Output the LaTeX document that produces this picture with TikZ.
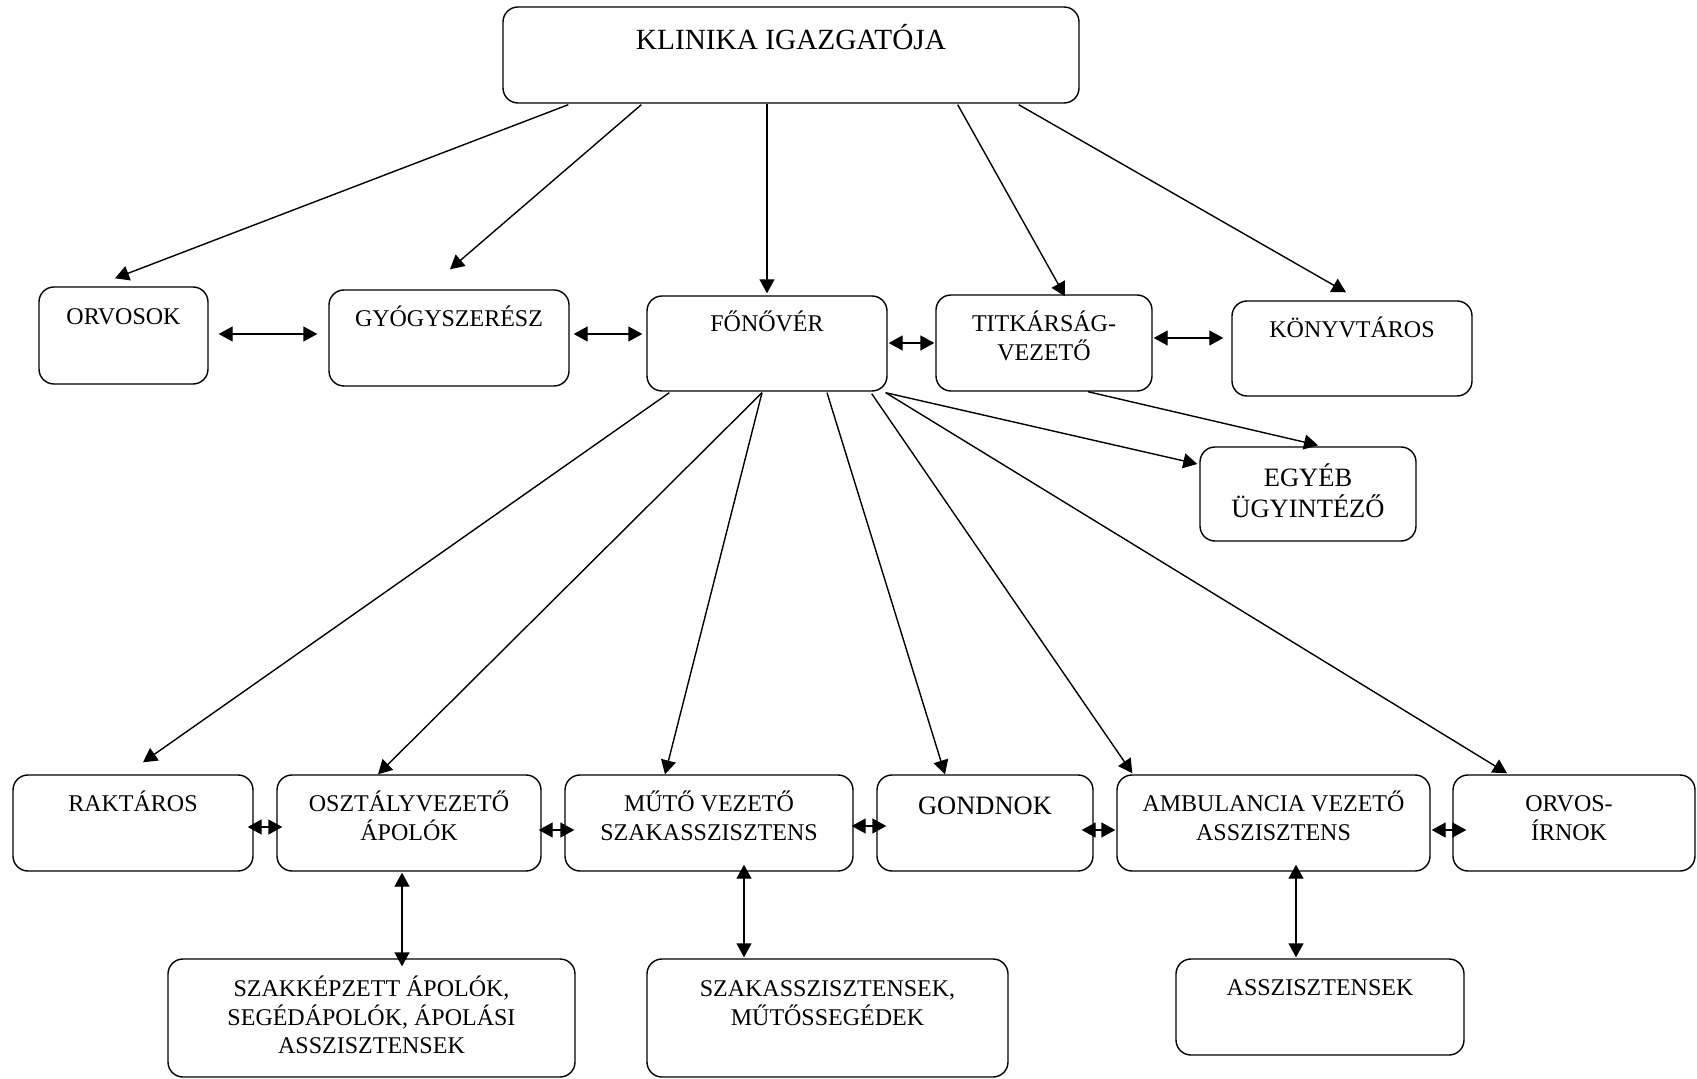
\documentclass[tikz,border=0pt]{standalone}
\usepackage{fontspec}
\setmainfont{Liberation Serif}
\usetikzlibrary{arrows.meta,fit}
\newcommand\tstrut{\rule{0pt}{15pt}}
\begin{document}
\begin{tikzpicture}[x=0.5pt,y=-0.5pt,
  box/.style={draw, line width=0.7pt, rounded corners=7.5pt, inner sep=0pt},
  txt/.style={anchor=north, inner sep=0pt, align=center, font=\fontsize{12pt}{14.25pt}\selectfont},
  big/.style={font=\fontsize{13.25pt}{15.5pt}\selectfont},
  huge/.style={font=\fontsize{14.65pt}{17pt}\selectfont},
  arr/.style={line width=0.7pt, -{Triangle[length=7pt,width=7.5pt]}},
  bi/.style={line width=0.7pt, {Triangle[length=7pt,width=7.5pt]}-{Triangle[length=7pt,width=7.5pt]}}]
\useasboundingbox (0,0) rectangle (1697,1079);

% boxes
\node[box, fit={(503,7) (1079,103)}] (klin) {};
\node[box, fit={(39,287) (208,384)}] (orv) {};
\node[box, fit={(329,290) (569,386)}] (gyo) {};
\node[box, fit={(647,296) (887,391)}] (fon) {};
\node[box, fit={(936,295) (1152,391)}] (tit) {};
\node[box, fit={(1232,301) (1472,396)}] (kony) {};
\node[box, fit={(1200,447) (1416,541)}] (egy) {};
\node[box, fit={(13,775) (253,871)}] (rak) {};
\node[box, fit={(277,775) (541,871)}] (osz) {};
\node[box, fit={(565,775) (853,871)}] (mut) {};
\node[box, fit={(877,775) (1093,871)}] (gon) {};
\node[box, fit={(1117,775) (1430,871)}] (amb) {};
\node[box, fit={(1453,775) (1695,871)}] (oir) {};
\node[box, fit={(168,959) (575,1077)}] (szk) {};
\node[box, fit={(647,959) (1008,1077)}] (sza) {};
\node[box, fit={(1176,959) (1464,1055)}] (asz) {};

% texts
\node[txt, huge] (klinT) at ([shift={(0,13)}]klin.north) {\tstrut KLINIKA IGAZGATÓJA};
\node[txt] (orvT) at ([shift={(0,8)}]orv.north) {\tstrut ORVOSOK};
\node[txt] (gyoT) at ([shift={(0,7)}]gyo.north) {\tstrut GYÓGYSZERÉSZ};
\node[txt] (fonT) at ([shift={(0,6)}]fon.north) {\tstrut FŐNŐVÉR};
\node[txt] (titT) at ([shift={(0,7)}]tit.north) {\tstrut TITKÁRSÁG-\\VEZETŐ};
\node[txt] (konyT) at ([shift={(0,7)}]kony.north) {\tstrut KÖNYVTÁROS};
\node[txt, big] (egyT) at ([shift={(0,10)}]egy.north) {\tstrut EGYÉB\\ÜGYINTÉZŐ};
\node[txt] (rakT) at ([shift={(0,7)}]rak.north) {\tstrut RAKTÁROS};
\node[txt] (oszT) at ([shift={(0,7)}]osz.north) {\tstrut OSZTÁLYVEZETŐ\\ÁPOLÓK};
\node[txt] (mutT) at ([shift={(0,7)}]mut.north) {\tstrut MŰTŐ VEZETŐ\\SZAKASSZISZTENS};
\node[txt, big] (gonT) at ([shift={(0,10)}]gon.north) {\tstrut GONDNOK};
\node[txt] (ambT) at ([shift={(0,7)}]amb.north) {\tstrut AMBULANCIA VEZETŐ\\ASSZISZTENS};
\node[txt] (oirT) at ([shift={(-5,7)}]oir.north) {\tstrut ORVOS-\\ÍRNOK};
\node[txt] (szkT) at ([shift={(0,8)}]szk.north) {\tstrut SZAKKÉPZETT ÁPOLÓK,\\SEGÉDÁPOLÓK, ÁPOLÁSI\\ASSZISZTENSEK};
\node[txt] (szaT) at ([shift={(0,8)}]sza.north) {\tstrut SZAKASSZISZTENSEK,\\MŰTŐSSEGÉDEK};
\node[txt] (aszT) at ([shift={(0,7)}]asz.north) {\tstrut ASSZISZTENSEK};

% from director
\draw[arr] ([shift={(66,1)}]klin.south west) -- ([shift={(-8.5,-8)}]orv.north);
\draw[arr] ([shift={(139,1)}]klin.south west) -- ([shift={(1,-20)}]gyo.north);
\draw[arr] ([shift={(-24,0)}]klin.south) -- ([shift={(0,-2)}]fon.north);
\draw[arr] ([shift={(-122,1)}]klin.south east) -- ([shift={(21,2)}]tit.north);
\draw[arr] ([shift={(-61,1)}]klin.south east) -- ([shift={(-6,-8)}]kony.north);

% second row links
\draw[bi] ([shift={(10,-1.5)}]orv.east) -- ([shift={(-11,-4)}]gyo.west);
\draw[bi] ([shift={(4,-4)}]gyo.east) -- ([shift={(-4,-9.5)}]fon.west);
\draw[bi] ([shift={(1,-0.5)}]fon.east) -- ([shift={(-1,0)}]tit.west);
\draw[bi] ([shift={(1,-5)}]tit.east) -- ([shift={(-8,-10.5)}]kony.west);

% from head nurse
\draw[arr] ([shift={(23,1)}]fon.south west) -- ([shift={(10,-12)}]rak.north);
\draw[arr] ([shift={(-5,1)}]fon.south) -- ([shift={(-31,0)}]osz.north);
\draw[arr] ([shift={(-5,1)}]fon.south) -- ([shift={(-44,0)}]mut.north);
\draw[arr] ([shift={(60,1)}]fon.south) -- ([shift={(-40,0)}]gon.north);
\draw[arr] ([shift={(-16,2)}]fon.south east) -- ([shift={(16,-1)}]amb.north west);
\draw[arr] ([shift={(-2,1)}]fon.south east) -- ([shift={(-67,-1)}]oir.north);
\draw[arr] ([shift={(-2,1)}]fon.south east) -- ([shift={(-2,-30)}]egy.west);
\draw[arr] ([shift={(44,0)}]tit.south) -- ([shift={(10,-1)}]egy.north);

% third row links
\draw[bi] ([shift={(-6,4)}]rak.east) -- ([shift={(6,4)}]osz.west);
\draw[bi] ([shift={(-3,7)}]osz.east) -- ([shift={(10,7)}]mut.west);
\draw[bi] ([shift={(-2,3)}]mut.east) -- ([shift={(10,3)}]gon.west);
\draw[bi] ([shift={(-12,7)}]gon.east) -- ([shift={(-1,7)}]amb.west);
\draw[bi] ([shift={(1,7)}]amb.east) -- ([shift={(14,7)}]oir.west);

% vertical links
\draw[bi] ([shift={(-7,1)}]osz.south) -- ([shift={(30.5,8)}]szk.north);
\draw[bi] ([shift={(35,-7)}]mut.south) -- ([shift={(-83.5,-1)}]sza.north);
\draw[bi] ([shift={(22.5,-7)}]amb.south) -- ([shift={(-24,-1)}]asz.north);
\end{tikzpicture}
\end{document}
